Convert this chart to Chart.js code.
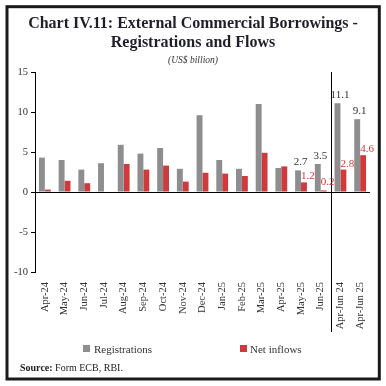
<!DOCTYPE html>
<html>
<head>
<meta charset="utf-8">
<script src="https://cdn.jsdelivr.net/npm/chart.js@4.4.0/dist/chart.umd.min.js"></script>
<style>
    html, body { margin: 0; padding: 0; background: #fff; }
    #wrap { width: 386px; height: 386px; }
</style>
</head>
<body>
<div id="wrap"><canvas id="myChart" width="386" height="386"></canvas></div>
<script>
var periods = ['Apr-24', 'May-24', 'Jun-24', 'Jul-24', 'Aug-24', 'Sep-24', 'Oct-24', 'Nov-24', 'Dec-24',
    'Jan-25', 'Feb-25', 'Mar-25', 'Apr-25', 'May-25', 'Jun-25', 'Apr-Jun 24', 'Apr-Jun 25'];
var registrations = [4.3, 4.0, 2.8, 3.6, 5.9, 4.8, 5.5, 2.9, 9.6, 4.0, 2.9, 11.0, 3.0, 2.7, 3.5, 11.1, 9.1];
var netInflows = [0.3, 1.4, 1.1, 0.0, 3.5, 2.8, 3.3, 1.3, 2.4, 2.3, 2.0, 4.9, 3.2, 1.2, 0.2, 2.8, 4.6];
var labelledIdx = [13, 14, 15, 16];
var yMin = -10, yMax = 15, yStep = 5;

var grey = '#8e8e90';
var red = '#cf3b3d';
var serif = "'Liberation Serif', 'DejaVu Serif', serif";

// titles, border, separator, legend, value labels, source
var decor = {
    id: 'decor',
    afterDraw: function (chart) {
        var c = chart.ctx;
        var area = chart.chartArea;
        var xs = chart.scales.x;
        var ys = chart.scales.y;
        c.save();

        c.strokeStyle = '#1a1a1a';
        c.lineWidth = 3;
        c.strokeRect(7, 6.7, 372.3, 372.3);

        c.fillStyle = '#1f1f2a';
        c.textAlign = 'center';
        c.textBaseline = 'alphabetic';
        c.font = 'bold 16px ' + serif;
        c.fillText('Chart IV.11: External Commercial Borrowings -', 193, 28);
        c.fillText('Registrations and Flows', 193, 47);
        c.font = 'italic 9.5px ' + serif;
        c.fillStyle = '#333';
        c.fillText('(US$ billion)', 193, 63);

        // separator between monthly and quarterly
        var sx = Math.round((xs.getPixelForTick(14) + xs.getPixelForTick(15)) / 2) + 0.5;
        c.strokeStyle = '#000';
        c.lineWidth = 1;
        c.beginPath();
        c.moveTo(sx, area.top);
        c.lineTo(sx, 332);
        c.stroke();

        // value labels
        c.font = '11px ' + serif;
        var metaR = chart.getDatasetMeta(0), metaN = chart.getDatasetMeta(1);
        var zeroY = ys.getPixelForValue(0);
        labelledIdx.forEach(function (i) {
            var b = metaR.data[i];
            c.fillStyle = '#333';
            c.fillText(registrations[i].toFixed(1), b.x + 2.5, b.y - 5);
            var r = metaN.data[i];
            c.fillStyle = red;
            c.fillText(netInflows[i].toFixed(1), r.x + 4, Math.min(r.y - 3, zeroY - 7));
        });

        // legend
        c.textAlign = 'left';
        c.font = '11px ' + serif;
        c.fillStyle = grey;
        c.fillRect(83, 345, 7, 7);
        c.fillStyle = '#333';
        c.fillText('Registrations', 94, 353);
        c.fillStyle = red;
        c.fillRect(240, 345, 7, 7);
        c.fillStyle = '#333';
        c.fillText('Net inflows', 250, 353);

        // source
        c.font = 'bold 10px ' + serif;
        c.fillStyle = '#222';
        c.fillText('Source:', 20, 371);
        var w = c.measureText('Source:').width;
        c.font = '10px ' + serif;
        c.fillText(' Form ECB, RBI.', 20 + w, 371);
        c.restore();
    }
};

var ctx = document.getElementById('myChart').getContext('2d');
var myChart = new Chart(ctx, {
    type: 'bar',
    data: {
        labels: periods,
        datasets: [{
            label: 'Registrations',
            data: registrations,
            backgroundColor: grey,
            categoryPercentage: 0.6,
            barPercentage: 1.0
        }, {
            label: 'Net inflows',
            data: netInflows,
            backgroundColor: red,
            categoryPercentage: 0.6,
            barPercentage: 1.0
        }]
    },
    options: {
        responsive: false,
        animation: false,
        devicePixelRatio: 1,
        layout: {padding: {top: 72, right: 16, bottom: 50, left: 0}},
        plugins: {
            legend: {display: false},
            title: {display: false},
            tooltip: {enabled: false}
        },
        scales: {
            x: {
                grid: {display: false, drawTicks: false},
                border: {display: false},
                ticks: {
                    autoSkip: false,
                    maxRotation: 90,
                    minRotation: 90,
                    padding: 10,
                    color: '#333',
                    font: {family: serif, size: 10.5}
                },
                afterFit: function (scale) { scale.height = 64; }
            },
            y: {
                min: yMin,
                max: yMax,
                ticks: {
                    stepSize: yStep,
                    padding: 3,
                    color: '#333',
                    font: {family: serif, size: 10.5}
                },
                grid: {
                    color: function (c) { return c.tick && c.tick.value === 0 ? '#000' : 'rgba(0,0,0,0)'; },
                    tickColor: '#000',
                    tickLength: 4,
                    lineWidth: 1
                },
                border: {display: true, color: '#000', width: 1},
                afterFit: function (scale) { scale.width = 35; }
            }
        }
    },
    plugins: [decor]
});
</script>
</body>
</html>
